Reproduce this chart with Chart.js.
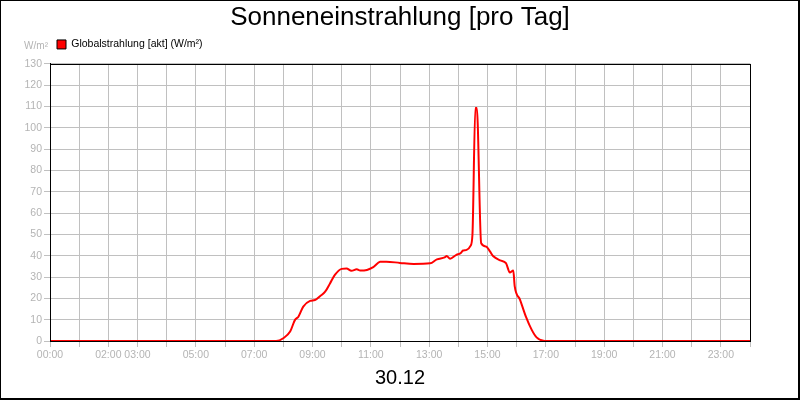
<!DOCTYPE html>
<html>
<head>
<meta charset="utf-8">
<script src="https://cdn.jsdelivr.net/npm/chart.js@4.4.1/dist/chart.umd.min.js"></script>
<style>
  html, body { margin: 0; padding: 0; background: #fff; }
  #wrap { width: 800px; height: 400px; }
</style>
</head>
<body>
<div id="wrap"><canvas id="solarChart" width="800" height="400"></canvas></div>
<script>
// measured readings (time of day -> W/m²)
const TIMES = [
  "00:00", "07:45", "08:00", "08:14", "08:24", "08:31", "08:41", "08:55",
  "09:05", "09:16", "09:26", "09:36", "09:46", "10:00", "10:10", "10:20",
  "10:31", "10:38", "10:52", "11:05", "11:19", "11:32", "12:00", "12:28",
  "13:02", "13:16", "13:32", "13:36", "13:43", "13:56", "14:04", "14:10",
  "14:17", "14:25", "14:29", "14:35", "14:38", "14:47", "14:57", "15:05",
  "15:12", "15:26", "15:38", "15:46", "15:53", "15:56", "16:07", "16:19",
  "16:31", "16:41", "16:55", "17:02", "24:00"
];
const VALUES = [
  0, 0, 1.3, 4.4, 9.9, 11.4, 16.1, 18.8,
  19.2, 21.1, 23.1, 27, 31, 33.8, 34, 32.9,
  33.6, 33, 33.3, 34.6, 37.1, 37.2, 36.6, 36.1,
  36.4, 38.3, 39.2, 39.8, 38.6, 40.4, 41.1, 42.4,
  42.7, 44.6, 49.7, 109.2, 109.2, 45.8, 44.3, 42,
  39.7, 37.8, 36.5, 32.1, 33, 25.6, 19.3, 11.4,
  5.2, 1.7, 0.1, 0, 0
];
const X_LABELS = [
  "00:00", "02:00", "03:00", "05:00", "07:00", "09:00", "11:00",
  "13:00", "15:00", "17:00", "19:00", "21:00", "23:00"
];

const FONT = "'Liberation Sans', Arial, sans-serif";
const GRAY = '#b4b4b4';
const GRID = '#c0c0c0';

const toHours = t => {
  const [h, m] = t.split(':').map(Number);
  return h + m / 60;
};
const points = TIMES.map((t, i) => ({ x: toHours(t), y: VALUES[i] }));

// legend sits right of the y axis, a bit higher than default
const legendShift = {
  id: 'legendShift',
  afterLayout(chart) {
    const lg = chart.legend;
    lg.left += 47; lg.right += 47;
    lg.top -= 4; lg.bottom -= 4;
  }
};

// frame around the canvas + plot area, and the unit label over the y axis
const framePlugin = {
  id: 'frame',
  afterDraw(chart) {
    const { ctx, chartArea: a } = chart;
    ctx.save();
    ctx.strokeStyle = '#000';
    ctx.lineWidth = 1;
    ctx.strokeRect(Math.round(a.left) + 0.5, Math.round(a.top) + 0.5,
                   Math.round(a.right - a.left), Math.round(a.bottom - a.top));
    ctx.fillStyle = '#000';
    ctx.fillRect(0, 0, 800, 1);
    ctx.fillRect(0, 0, 1, 400);
    ctx.fillRect(798, 0, 2, 400);
    ctx.fillRect(0, 398, 800, 2);
    ctx.fillStyle = GRAY;
    ctx.font = '10px ' + FONT;
    ctx.textAlign = 'right';
    ctx.textBaseline = 'middle';
    ctx.fillText('W/m²', a.left - 2, a.top - 17);
    ctx.restore();
  }
};

const ctx = document.getElementById('solarChart').getContext('2d');
new Chart(ctx, {
  type: 'line',
  data: {
    datasets: [{
      label: 'Globalstrahlung [akt] (W/m²)',
      data: points,
      borderColor: '#ff0000',
      backgroundColor: '#ff0000',
      borderWidth: 2,
      pointRadius: 0,
      cubicInterpolationMode: 'monotone',
      fill: false
    }]
  },
  options: {
    responsive: false,
    animation: false,
    layout: { padding: 0 },
    plugins: {
      title: {
        display: true,
        text: 'Sonneneinstrahlung [pro Tag]',
        color: '#000',
        font: { family: FONT, size: 26, weight: 'normal' },
        padding: { top: 2, bottom: 0 }
      },
      subtitle: {
        display: true,
        position: 'bottom',
        text: '30.12',
        color: '#000',
        font: { family: FONT, size: 20, weight: 'normal' },
        padding: { top: 2, bottom: 10 }
      },
      legend: {
        position: 'top',
        align: 'start',
        labels: {
          boxWidth: 9,
          boxHeight: 9,
          padding: 10,
          color: '#000',
          font: { family: FONT, size: 10.5 },
          generateLabels: chart =>
            Chart.defaults.plugins.legend.labels.generateLabels(chart)
              .map(l => Object.assign(l, { strokeStyle: '#000', lineWidth: 1 }))
        }
      },
      tooltip: { enabled: false }
    },
    scales: {
      x: {
        type: 'linear',
        min: 0,
        max: 24,
        afterFit: s => { s.height = 23; },
        ticks: {
          stepSize: 1,
          autoSkip: false,
          maxRotation: 0,
          color: GRAY,
          font: { family: FONT, size: 10.5 },
          padding: 2,
          callback: v => {
            const lbl = String(v).padStart(2, '0') + ':00';
            return X_LABELS.includes(lbl) ? lbl : '';
          }
        },
        grid: { color: GRID, tickColor: GRID, tickLength: 6 },
        border: { color: '#000', width: 1 }
      },
      y: {
        min: 0,
        max: 130,
        afterFit: s => { s.width = 50; },
        ticks: {
          stepSize: 10,
          color: GRAY,
          font: { family: FONT, size: 10.5 },
          padding: 2
        },
        grid: { color: GRID, tickColor: GRID, tickLength: 6 },
        border: { color: '#000', width: 1 }
      },
      // empty right-hand gutter so the plot ends at the same place as the reference
      yRight: {
        axis: 'y',
        position: 'right',
        min: 0,
        max: 130,
        afterFit: s => { s.width = 50; },
        ticks: { display: false },
        grid: { display: false, drawTicks: false },
        border: { display: false }
      }
    }
  },
  plugins: [legendShift, framePlugin]
});
</script>
</body>
</html>
